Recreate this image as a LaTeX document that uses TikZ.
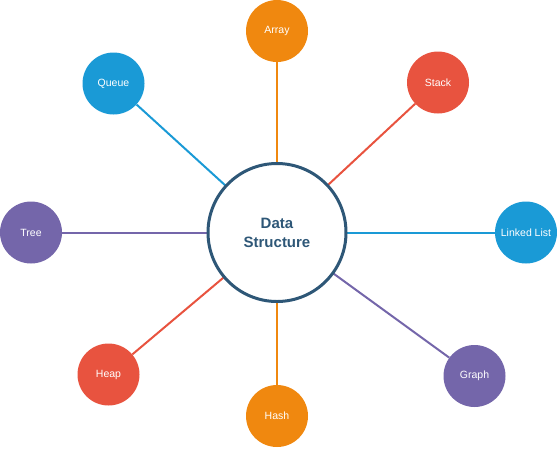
\documentclass[tikz,border=0pt]{standalone}
\usepackage{fontspec}
\setmainfont{Liberation Sans}
\definecolor{corange}{HTML}{F0880F}
\definecolor{cred}{HTML}{E8533F}
\definecolor{cblue}{HTML}{1A9AD6}
\definecolor{cpurple}{HTML}{7466AA}
\definecolor{cnavy}{HTML}{2E5777}
\begin{document}
\begin{tikzpicture}[x=1pt,y=-1pt,
  sat/.style={circle,minimum size=62pt,inner sep=0pt,text=white,font=\fontsize{10.5}{12}\selectfont},
  hub/.style={circle,draw=cnavy,line width=3pt,fill=white,minimum size=138pt,inner sep=0pt,text=cnavy,align=center,font=\fontsize{15}{19}\selectfont\bfseries},
  link/.style={line width=2pt}]
\useasboundingbox (0,0) rectangle (557,448);
\node[sat,fill=corange] (array) at (277,31) {Array};
\node[sat,fill=cred] (stack) at (438,82.5) {Stack};
\node[sat,fill=cblue] (queue) at (113.5,83.5) {Queue};
\node[sat,fill=cpurple] (tree) at (31,232.5) {Tree};
\node[sat,fill=cblue] (list) at (526,232.5) {Linked List};
\node[sat,fill=cred] (heap) at (108.5,374.5) {Heap};
\node[sat,fill=cpurple] (graph) at (474.5,376) {Graph};
\node[sat,fill=corange] (hash) at (277,416) {Hash};
\coordinate (c) at (277,232.5);
\draw[link,corange] (c) -- (array);
\draw[link,cred] (c) -- (stack);
\draw[link,cblue] (c) -- (queue);
\draw[link,cpurple] (c) -- (tree);
\draw[link,cblue] (c) -- (list);
\draw[link,cred] (c) -- (heap);
\draw[link,cpurple] (c) -- (graph);
\draw[link,corange] (c) -- (hash);
\node[hub] (ds) at (c) {Data\\Structure};
\end{tikzpicture}
\end{document}
